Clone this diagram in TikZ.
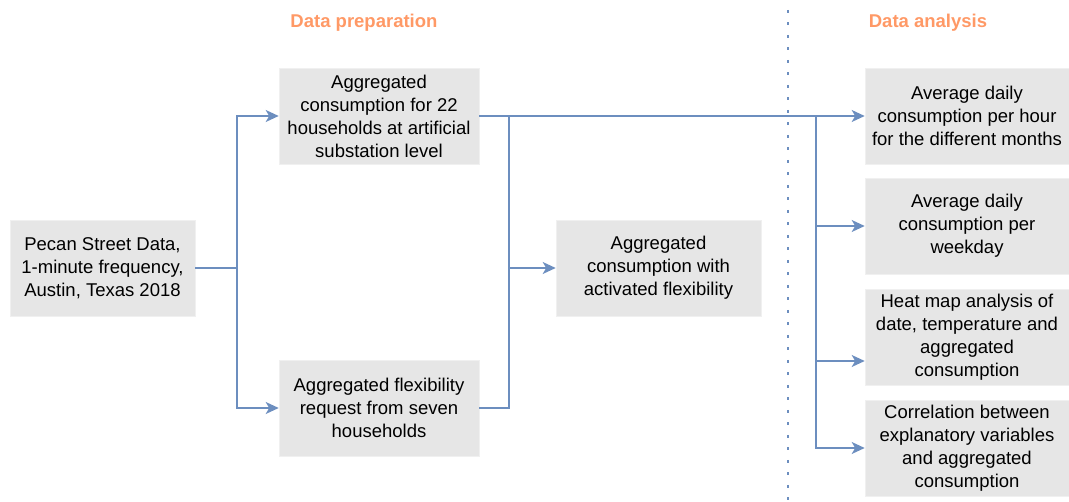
\documentclass[tikz,border=0pt]{standalone}
\usepackage{fontspec}
\setmainfont{Liberation Sans}
\usetikzlibrary{arrows.meta}
\definecolor{linec}{HTML}{6C8EBF}
\definecolor{boxc}{HTML}{E6E6E6}
\definecolor{titlec}{HTML}{FF9966}
\tikzset{
  box/.style={fill=boxc, draw=boxc!60!white, line width=0.6pt, inner sep=0pt, align=center,
    minimum height=96pt, font=\fontsize{18.5}{23}\selectfont},
  conn/.style={draw=linec, line width=1.5pt},
  arr/.style={conn, -{Stealth[length=13pt, width=12pt, inset=3.5pt]}},
  ttl/.style={font=\fontsize{18.5}{23}\selectfont\bfseries, text=titlec}
}
\begin{document}
\begin{tikzpicture}[x=1pt,y=-1pt]
\useasboundingbox (0,0) rectangle (1069,502);
\node[ttl] (t1) at (364,23) {Data preparation};
\node[ttl] (t2) at (928,23) {Data analysis};
\draw[linec, line width=2.6pt, dash pattern=on 2.6pt off 9.9pt] (788,10) -- (788,502);

\node[box, minimum width=185pt] (pecan) at (102.5,268) {Pecan Street Data,\\1-minute frequency,\\Austin, Texas 2018};
\node[box, minimum width=200pt] (cons) at (379,116) {Aggregated\\consumption for 22\\households at artificial\\substation level};
\node[box, minimum width=200pt] (flex) at (379,408) {Aggregated flexibility\\request from seven\\households};
\node[box, minimum width=205pt] (act) at (658.5,268) {Aggregated\\consumption with\\activated flexibility};
\node[box, minimum width=204pt] (r1) at (967,116) {Average daily\\consumption per hour\\for the different months};
\node[box, minimum width=204pt] (r2) at (967,226) {Average daily\\consumption per\\weekday};
\node[box, minimum width=204pt] (r3) at (967,337) {Heat map analysis of\\date, temperature and\\aggregated\\consumption};
\node[box, minimum width=204pt] (r4) at (967,448) {Correlation between\\explanatory variables\\and aggregated\\consumption};

\coordinate (j1) at (237,268);
\coordinate (j2) at (509,268);
\coordinate (j3) at (816,116);

\draw[conn] (pecan.east) -- (j1);
\draw[arr] (j1) |- (cons.west);
\draw[arr] (j1) |- (flex.west);
\draw[conn] (cons.east) -| (j2);
\draw[conn] (flex.east) -| (j2);
\draw[arr] (j2) -- (act.west);
\draw[arr] (cons.east) -- (r1.west);
\draw[arr] (j3) |- (r2.west);
\draw[arr] (j3) |- ([yshift=-24pt]r3.west);
\draw[arr] (j3) |- (r4.west);
\end{tikzpicture}
\end{document}
